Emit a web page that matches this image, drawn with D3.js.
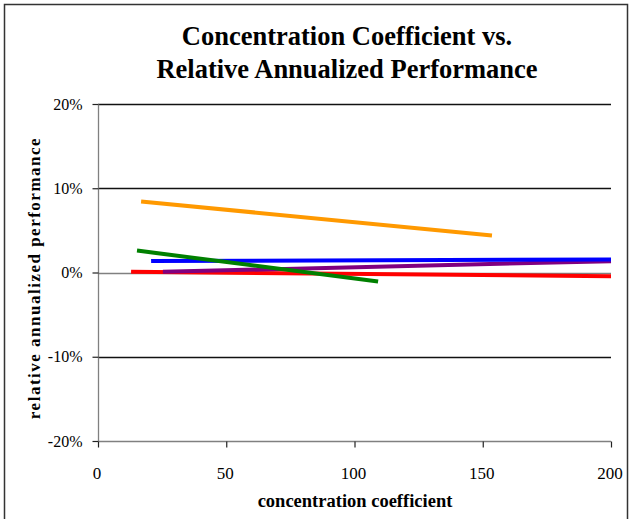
<!DOCTYPE html>
<html><head><meta charset="utf-8">
<script src="https://cdn.jsdelivr.net/npm/d3@7"></script>
<style>body{margin:0;background:#fff}svg{display:block}
svg text{font-family:"Liberation Serif","Times New Roman","DejaVu Serif",serif;}</style>
</head><body>
<svg id="c" width="631" height="519"></svg>
<script>
const titleLines = ["Concentration Coefficient vs.", "Relative Annualized Performance"];
const xLabel = "concentration coefficient";
const yLabel = "relative annualized performance";
const xTicks = [0, 50, 100, 150, 200];
const yTicks = [-0.2, -0.1, 0, 0.1, 0.2];
const yTickLabels = ["-20%", "-10%", "0%", "10%", "20%"];
const seriesNames = ["red", "purple", "blue", "orange", "green"];
const seriesColors = ["#ff0000", "#800080", "#0000ff", "#ff9900", "#008000"];
const seriesX = [[12.9, 200], [25.3, 200], [20.7, 200], [16.8, 153.6], [15.2, 109.2]];
const seriesY = [[0.0008, -0.0044], [0.0008, 0.0135], [0.0136, 0.0155], [0.0843, 0.0439], [0.026, -0.0107]];

const svg = d3.select("#c");
const x = d3.scaleLinear().domain([0, 200]).range([98, 611]);
const y = d3.scaleLinear().domain([-0.2, 0.2]).range([441, 104]);

svg.append("rect").attr("x", 4.5).attr("y", 4.5).attr("width", 623).attr("height", 530)
  .attr("fill", "none").attr("stroke", "#333").attr("stroke-width", 1.5);

const tg = svg.append("g").attr("font-weight", "bold").attr("font-size", 26.5)
  .attr("text-anchor", "middle").attr("fill", "#000");
titleLines.forEach((t, i) => tg.append("text").attr("x", 347).attr("y", 45 + i * 33).text(t));

// gridlines
svg.append("g").selectAll("line").data(yTicks.filter(v => v > -0.2)).join("line")
  .attr("x1", 98).attr("x2", 611)
  .attr("y1", d => Math.round(y(d)) + 0.5).attr("y2", d => Math.round(y(d)) + 0.5)
  .attr("stroke", d => d === 0 ? "#808080" : "#111").attr("stroke-width", 1.3);

// axes
const yAxis = d3.axisLeft(y).tickValues(yTicks).tickSize(6).tickPadding(10)
  .tickFormat((d, i) => yTickLabels[i]);
const ga = svg.append("g").attr("transform", "translate(98.5,0)").call(yAxis);
const xAxis = d3.axisBottom(x).tickValues(xTicks).tickSize(6).tickPadding(19);
const gx = svg.append("g").attr("transform", "translate(0,441.5)").call(xAxis);
[ga, gx].forEach(g => {
  g.attr("font-family", null).attr("font-size", null);
  g.select(".domain").attr("stroke", "#808080").attr("stroke-width", 1.3);
  g.selectAll(".tick line").attr("stroke", "#222").attr("stroke-width", 1.2);
  g.selectAll("text").attr("fill", "#000");
});
ga.selectAll("text").attr("font-size", 16);
gx.selectAll("text").attr("font-size", 17).attr("dx", -1.5);
ga.select(".domain").attr("d", "M0,104V441");
gx.select(".domain").attr("d", "M98,0H611");

svg.append("text").attr("x", 355).attr("y", 507).attr("text-anchor", "middle")
  .attr("font-weight", "bold").attr("font-size", 18.5).text(xLabel);
svg.append("text").attr("transform", "translate(40,278) rotate(-90)").attr("text-anchor", "middle")
  .attr("font-weight", "bold").attr("font-size", 17).attr("letter-spacing", 1.5).text(yLabel);

// series
const line = d3.line().x(d => x(d[0])).y(d => y(d[1]));
seriesNames.forEach((n, i) => {
  const pts = seriesX[i].map((v, j) => [v, seriesY[i][j]]);
  svg.append("path").datum(pts).attr("d", line).attr("fill", "none")
    .attr("stroke", seriesColors[i]).attr("stroke-width", 4);
});
</script>
</body></html>
